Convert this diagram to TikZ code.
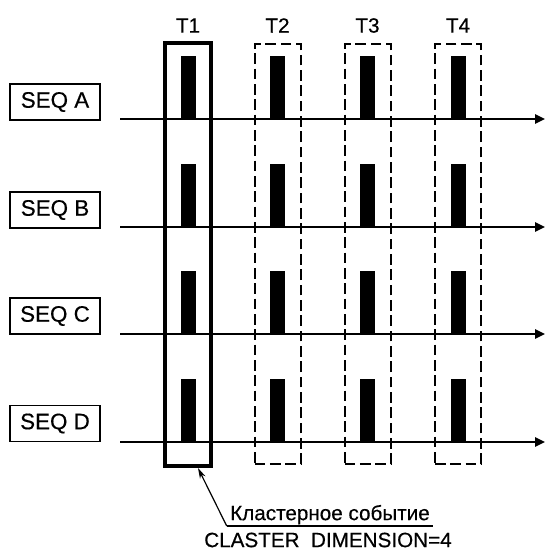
\documentclass[tikz,border=0pt]{standalone}
\usepackage{fontspec}
\setmainfont[FakeBold=0.4]{Liberation Sans}
\usepackage{xcolor}
\usepackage{tikz}
\usetikzlibrary{arrows.meta,positioning}

\begin{document}
\begin{tikzpicture}[x=0.75pt,y=-0.75pt,
  box/.style={draw,line width=1.2pt,minimum width=67.5pt,minimum height=27pt,
    inner sep=0pt,font=\fontsize{16.8}{18}\selectfont},
  tbox/.style={draw,line width=3pt,minimum width=34.5pt,minimum height=317.25pt,inner sep=0pt},
  tdash/.style={draw,line width=1.5pt,dash pattern=on 8pt off 3.5pt,
    minimum width=34.5pt,minimum height=315pt,inner sep=0pt},
  tlab/.style={inner sep=0pt,font=\fontsize{15.5}{18}\selectfont},
  axis/.style={line width=1.4pt,-{Triangle[length=7.5pt,width=7pt]}},
  arr/.style={line width=0.9pt,-{Stealth[length=8pt,width=4.5pt]}}
]
\useasboundingbox (0,0) rectangle (545,553);

% time slots
\node[tbox]  (t1) at (188,254.5) {};
\node[tdash] (t2) at (277.5,254) {};
\node[tdash] (t3) at (367.5,254) {};
\node[tdash] (t4) at (458,254) {};
\node[tlab] (lt1) at (188,25.5) {T1};
\node[tlab] (lt2) at (277.5,25.5) {T2};
\node[tlab] (lt3) at (367.5,25.5) {T3};
\node[tlab] (lt4) at (458,25.5) {T4};

% sequences
\node[box] (seqa) at (55,102) {SEQ A};
\node[box] (seqb) at (55,210) {SEQ B};
\node[box] (seqc) at (55,316) {SEQ C};
\node[box] (seqd) at (55,423.5) {SEQ D};
\coordinate (a0) at (120,119);   \coordinate (a1) at (545,119);
\coordinate (b0) at (120,227);   \coordinate (b1) at (545,227);
\coordinate (c0) at (120,334);   \coordinate (c1) at (545,334);
\coordinate (d0) at (120,442);   \coordinate (d1) at (545,442);
\draw[axis] (a0) -- (a1);
\draw[axis] (b0) -- (b1);
\draw[axis] (c0) -- (c1);
\draw[axis] (d0) -- (d1);

% events
\foreach \x in {188,277.5,367.5,458}
  \foreach \y in {119,227,334,442}
    \fill (\x-7.5,\y) rectangle ++(15,-63);

% cluster event
\node[tlab,anchor=south,minimum width=154.5pt,inner ysep=1pt] (ev) at (330,526) {Кластерное событие};
\draw[line width=0.9pt] (ev.south west) -- (ev.south east);
\draw[arr] (ev.south west) -- ([xshift=7.5pt]t1.south);
\node[tlab] (dim) at (328,540) {CLASTER\ \ DIMENSION=4};
\end{tikzpicture}
\end{document}
